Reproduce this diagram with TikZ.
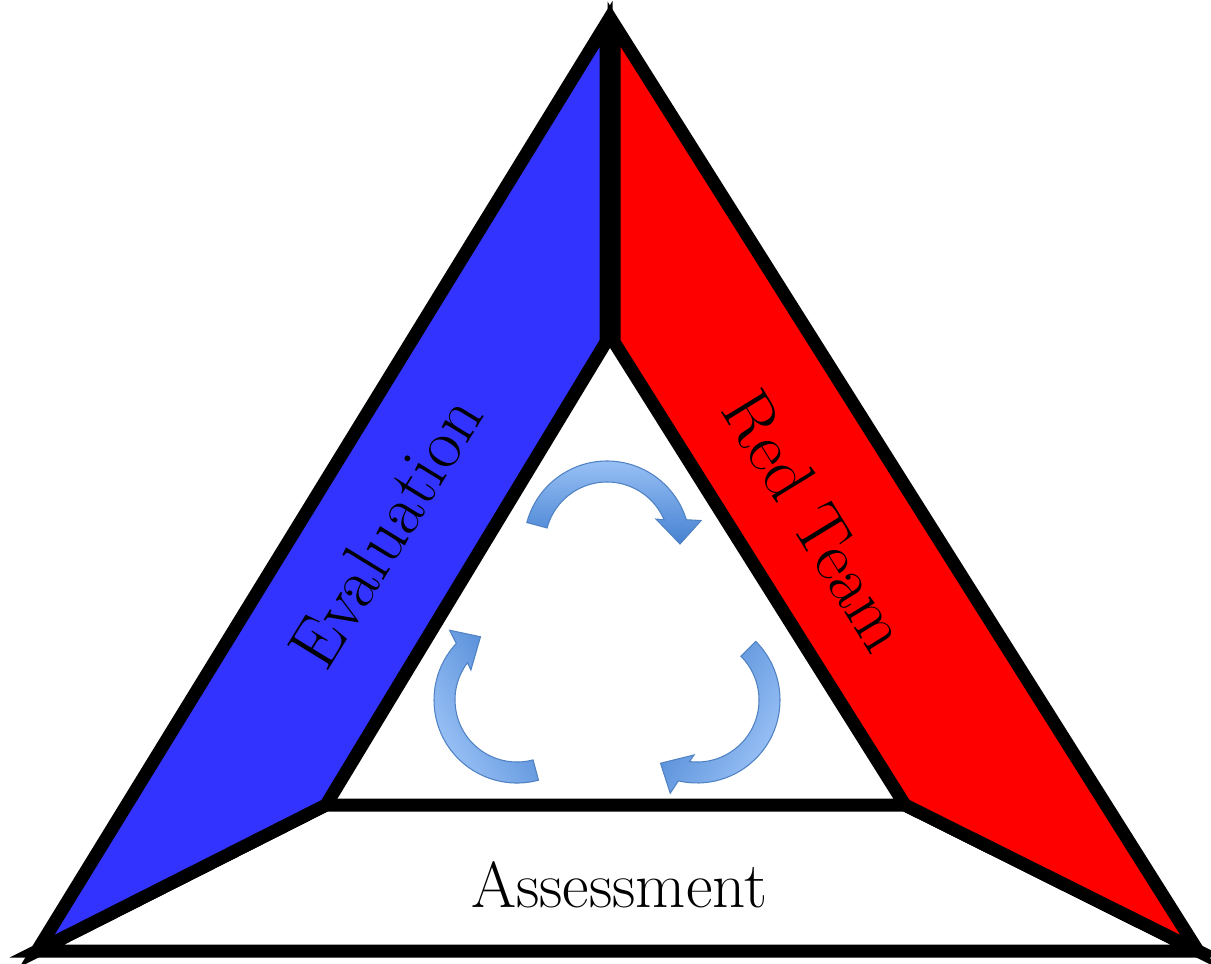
\documentclass[tikz,border=0pt]{standalone}
\usepackage{tikz}
\usetikzlibrary{positioning}
\definecolor{evalblue}{RGB}{51,51,255}
\definecolor{teamred}{RGB}{255,0,0}
\definecolor{cyclelight}{RGB}{160,198,248}
\definecolor{cycledark}{RGB}{70,130,210}
\definecolor{cycleline}{RGB}{80,130,195}
\tikzset{x=0.02cm, y=0.02cm,
panel/.style={ % Sets the properties for each side of the triangle
draw=black,
line width=7.4pt},
cycle arrow/.style={ % Sets the properties for the arrows in the middle
draw=cycleline,
line width=0.6pt,
top color=cyclelight,
bottom color=cycledark},
panel text/.style={ % Text written on the sides
font=\fontsize{40}{46}\selectfont}}
% #1 = centre of the arrow, #2 = turn of the arrow
\newcommand{\cyclearrow}[2]{%
\path[cycle arrow, shading angle=#2]
 ([shift={(165+#2:83)}]#1) arc[start angle=165+#2, end angle=17+#2, radius=83]
 -- ([shift={(14+#2:97)}]#1) -- ([shift={(#2:73)}]#1) -- ([shift={(27+#2:55)}]#1)
 -- ([shift={(23+#2:62)}]#1) arc[start angle=23+#2, end angle=165+#2, radius=62] -- cycle;}

\begin{document}
\begin{tikzpicture}
\useasboundingbox (0,0) rectangle (1211,-964);
\coordinate (topL) at (606,-24);
\coordinate (topR) at (614,-24);
\coordinate (bl) at (37,-951);
\coordinate (br) at (1198,-951);
\coordinate (itopL) at (606,-342);
\coordinate (itopR) at (614,-342);
\coordinate (ibl) at (326,-805);
\coordinate (ibr) at (905,-805);
\draw[panel, fill=white] (bl) -- (ibl) -- (ibr) -- (br) -- cycle;
\draw[panel, fill=evalblue] (bl) -- (topL) -- (itopL) -- (ibl) -- cycle;
\draw[panel, fill=teamred] (topR) -- (br) -- (ibr) -- (itopR) -- cycle;
\node[panel text, rotate=58.5] (evaluation) at (385,-532) {Evaluation};
\node[panel text, rotate=-58.5] (redteam) at (816,-521) {Red Team};
\node[panel text, font=\fontsize{37}{44}\selectfont, anchor=base] (assessment) at (619,-907) {Assessment};
% the cycle in the middle
\coordinate (topc) at (607,-544);
\coordinate (leftc) at (517,-700);
\coordinate (rightc) at (697,-700);
\cyclearrow{topc}{0}
\cyclearrow{leftc}{120}
\cyclearrow{rightc}{240}
\end{tikzpicture}
\end{document}
